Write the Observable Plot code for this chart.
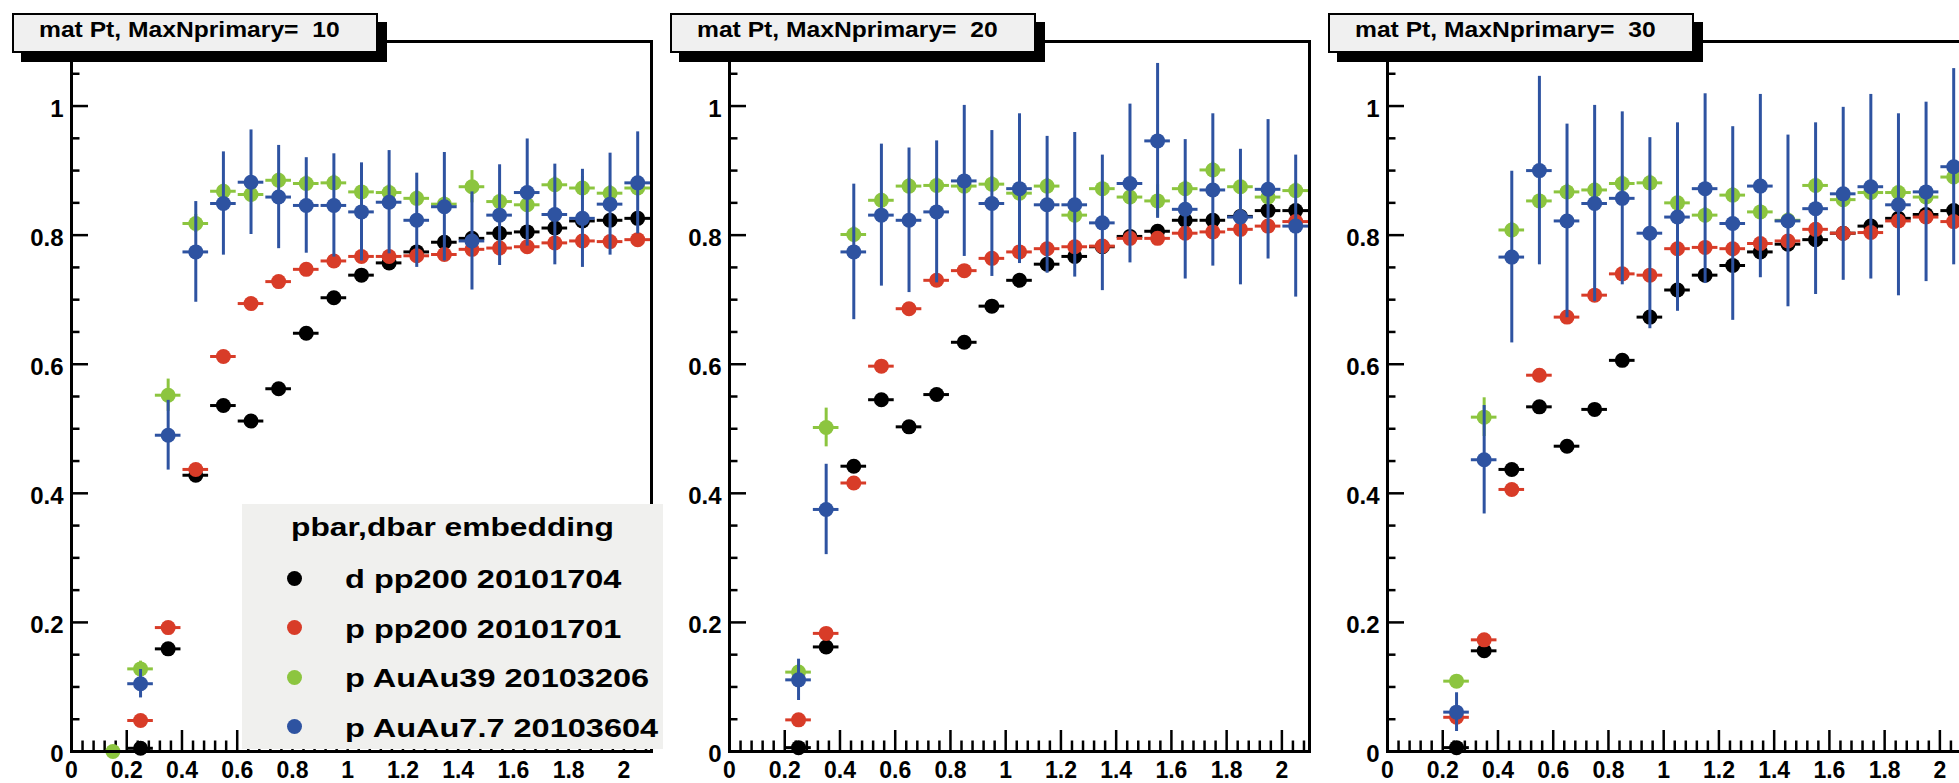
<!DOCTYPE html>
<html><head><meta charset="utf-8">
<script src="https://cdn.jsdelivr.net/npm/d3@7"></script>
<script src="https://cdn.jsdelivr.net/npm/@observablehq/plot@0.6"></script>
<style>
html, body { margin:0; padding:0; background:#fff; overflow:hidden; }
#wrap { position:relative; width:1959px; height:783px; overflow:hidden; background:#fff; }
.panel { position:absolute; top:0; width:658px; height:783px; }
.panel svg { position:absolute; left:0; top:0; background:transparent !important; max-width:none !important; }
.titlebox { position:absolute; left:12px; top:13px; width:366px; height:40px; box-sizing:border-box;
  border:2px solid #000; background:#f0f0f0; box-shadow:9px 9px 0 #000; z-index:5; }
.titlebox span { position:absolute; left:25px; top:4px; font:bold 22px/22px "Liberation Sans", Arial, sans-serif;
  white-space:pre; transform:scaleX(1.12); transform-origin:0 0; color:#000; }
.legend { position:absolute; left:242px; top:504px; width:421px; height:245px; background:#f0f0ee; z-index:10; }
.legend .head { position:absolute; left:0; width:100%; top:11px; text-align:center;
  font:bold 25px/25px "Liberation Sans", Arial, sans-serif; transform:scaleX(1.27); transform-origin:50% 0; white-space:pre; }
.legend .mk { position:absolute; width:15px; height:15px; border-radius:50%; left:44.5px; }
.legend .lab { position:absolute; left:103px; font:bold 25px/25px "Liberation Sans", Arial, sans-serif;
  transform:scaleX(1.3); transform-origin:0 0; white-space:pre; }
</style>
</head>
<body>
<div id="wrap"></div>
<script>
// ---- data ----
const ptBins = [0.15,0.25,0.35,0.45,0.55,0.65,0.75,0.85,0.95,1.05,1.15,1.25,1.35,1.45,1.55,1.65,1.75,1.85,1.95,2.05];
const binHalfWidth = 0.05;

const panelTitles = ["mat Pt, MaxNprimary=  10", "mat Pt, MaxNprimary=  20", "mat Pt, MaxNprimary=  30"];
const legendTitle = "pbar,dbar embedding";
const seriesNames = ["d pp200 20101704", "p pp200 20101701", "p AuAu39 20103206", "p AuAu7.7 20103604"];
const seriesColors = ["#000000", "#d83c28", "#8cc53f", "#2e53a1"];

// MaxNprimary = 10
const n10_dpp200 = [null,0.005,0.159,0.428,0.536,0.512,0.562,0.648,0.703,0.738,0.757,0.774,0.789,0.795,0.803,0.805,0.811,0.822,0.823,0.826];
const n10_ppp200 = [null,0.048,0.192,0.437,0.612,0.694,0.728,0.747,0.760,0.767,0.767,0.768,0.770,0.778,0.780,0.782,0.788,0.791,0.790,0.793];
const n10_pAuAu39 = [0.000,0.128,0.552,0.818,0.868,0.863,0.885,0.880,0.881,0.867,0.866,0.857,0.848,0.875,0.852,0.847,0.878,0.873,0.865,0.873];
const n10_pAuAu39_err = [0.006,0.012,0.025,0.014,0.012,0.012,0.012,0.012,0.012,0.012,0.012,0.012,0.012,0.025,0.012,0.012,0.012,0.018,0.012,0.012];
const n10_pAuAu77 = [null,0.105,0.490,0.774,0.849,0.882,0.859,0.846,0.846,0.836,0.851,0.823,0.844,0.791,0.831,0.866,0.832,0.826,0.848,0.881];
const n10_pAuAu77_err = [null,0.022,0.054,0.078,0.080,0.081,0.080,0.074,0.080,0.076,0.080,0.073,0.084,0.076,0.078,0.083,0.078,0.076,0.079,0.079];

// MaxNprimary = 20
const n20_dpp200 = [null,0.006,0.162,0.442,0.545,0.503,0.553,0.634,0.690,0.730,0.755,0.767,0.782,0.798,0.806,0.823,0.823,0.829,0.838,0.838];
const n20_ppp200 = [null,0.049,0.183,0.416,0.597,0.686,0.730,0.745,0.764,0.774,0.779,0.782,0.783,0.795,0.795,0.803,0.805,0.809,0.814,0.821];
const n20_pAuAu39 = [null,0.123,0.502,0.801,0.854,0.876,0.877,0.876,0.879,0.865,0.876,0.831,0.872,0.859,0.853,0.872,0.901,0.875,0.859,0.869];
const n20_pAuAu39_err = [null,0.012,0.030,0.012,0.012,0.012,0.012,0.012,0.012,0.012,0.012,0.012,0.012,0.012,0.025,0.012,0.012,0.012,0.012,0.012];
const n20_pAuAu77 = [null,0.111,0.375,0.774,0.831,0.823,0.836,0.884,0.849,0.872,0.847,0.847,0.819,0.880,0.946,0.840,0.870,0.828,0.871,0.814];
const n20_pAuAu77_err = [null,0.032,0.070,0.105,0.110,0.112,0.110,0.117,0.113,0.116,0.106,0.112,0.105,0.123,0.120,0.108,0.118,0.105,0.108,0.110];

// MaxNprimary = 30
const n30_dpp200 = [null,0.006,0.156,0.437,0.534,0.473,0.530,0.606,0.673,0.715,0.738,0.753,0.774,0.786,0.793,0.803,0.814,0.826,0.832,0.838];
const n30_ppp200 = [null,0.053,0.173,0.406,0.583,0.673,0.707,0.740,0.738,0.779,0.781,0.779,0.787,0.791,0.809,0.803,0.804,0.822,0.828,0.821];
const n30_pAuAu39 = [null,0.109,0.518,0.808,0.853,0.867,0.870,0.880,0.881,0.850,0.831,0.862,0.836,0.823,0.877,0.855,0.866,0.866,0.859,0.890];
const n30_pAuAu39_err = [null,0.010,0.030,0.012,0.012,0.012,0.012,0.012,0.012,0.012,0.012,0.012,0.012,0.012,0.012,0.012,0.012,0.012,0.012,0.012];
const n30_pAuAu77 = [null,0.061,0.452,0.766,0.900,0.822,0.849,0.857,0.803,0.828,0.872,0.818,0.876,0.822,0.841,0.864,0.875,0.847,0.867,0.906];
const n30_pAuAu77_err = [null,0.030,0.084,0.133,0.146,0.150,0.152,0.134,0.148,0.146,0.147,0.150,0.142,0.133,0.133,0.134,0.143,0.141,0.139,0.152];

// axes
const yMajorTicks = [0, 0.2, 0.4, 0.6, 0.8, 1];
const yTickLabels = ["0", "0.2", "0.4", "0.6", "0.8", "1"];
const yMinorTicks = [0.05,0.1,0.15,0.25,0.3,0.35,0.45,0.5,0.55,0.65,0.7,0.75,0.85,0.9,0.95,1.05];
const xMajorTicks = [0, 0.2, 0.4, 0.6, 0.8, 1, 1.2, 1.4, 1.6, 1.8, 2];
const xTickLabels = ["0", "0.2", "0.4", "0.6", "0.8", "1", "1.2", "1.4", "1.6", "1.8", "2"];
const xMinorTicks = [0.04,0.08,0.12,0.16,0.24,0.28,0.32,0.36,0.44,0.48,0.52,0.56,0.64,0.68,0.72,0.76,
  0.84,0.88,0.92,0.96,1.04,1.08,1.12,1.16,1.24,1.28,1.32,1.36,1.44,1.48,1.52,1.56,
  1.64,1.68,1.72,1.76,1.84,1.88,1.92,1.96,2.04,2.08];
const xDomain = [0, 2.1];
const yDomain = [0, 1.1];

const panels = [
  {title: panelTitles[0], series: [[n10_dpp200, null], [n10_ppp200, null], [n10_pAuAu39, n10_pAuAu39_err], [n10_pAuAu77, n10_pAuAu77_err]]},
  {title: panelTitles[1], series: [[n20_dpp200, null], [n20_ppp200, null], [n20_pAuAu39, n20_pAuAu39_err], [n20_pAuAu77, n20_pAuAu77_err]]},
  {title: panelTitles[2], series: [[n30_dpp200, null], [n30_ppp200, null], [n30_pAuAu39, n30_pAuAu39_err], [n30_pAuAu77, n30_pAuAu77_err]]}
];

// ---- layout ----
const W = 658, H = 783, mL = 71, mR = 7, mT = 41, mB = 32;
const plotW = W - mL - mR, plotH = H - mT - mB;
const FONT = '"Liberation Sans", Arial, Helvetica, sans-serif';

function makePanel(p) {
  const marks = [];
  p.series.forEach(([vals, errs], si) => {
    const rows = [];
    vals.forEach((v, i) => { if (v != null) rows.push({x: ptBins[i], y: v, e: errs ? errs[i] : 0}); });
    const c = seriesColors[si];
    marks.push(Plot.ruleY(rows, {y: "y", x1: d => d.x - binHalfWidth, x2: d => d.x + binHalfWidth,
      stroke: c, strokeWidth: 3, insetLeft: 1, insetRight: 1}));
    if (errs) marks.push(Plot.ruleX(rows.filter(d => d.e > 0), {x: "x", y1: d => d.y - d.e, y2: d => d.y + d.e,
      stroke: c, strokeWidth: 3}));
    marks.push(Plot.dot(rows, {x: "x", y: "y", r: 7.5, fill: c, stroke: "none"}));
  });
  return Plot.plot({
    width: W, height: H,
    marginLeft: mL, marginRight: mR, marginTop: mT, marginBottom: mB,
    x: {domain: xDomain, label: null}, y: {domain: yDomain, label: null},
    style: {fontFamily: FONT, fontWeight: "bold", fontSize: "23px", color: "#000", background: "transparent", overflow: "visible"},
    marks: [
      Plot.tickY(yMajorTicks, {y: d => d, stroke: "#000", strokeWidth: 2.5, insetRight: plotW - 17}),
      Plot.tickY(yMinorTicks, {y: d => d, stroke: "#000", strokeWidth: 2.5, insetRight: plotW - 8.5}),
      Plot.tickX(xMajorTicks, {x: d => d, stroke: "#000", strokeWidth: 2.5, insetTop: plotH - 21}),
      Plot.tickX(xMinorTicks, {x: d => d, stroke: "#000", strokeWidth: 2.5, insetTop: plotH - 10.5}),
      Plot.axisY({ticks: yMajorTicks, tickSize: 0, tickPadding: 8, dy: 3, fontSize: 24, label: null,
        tickFormat: d => yTickLabels[yMajorTicks.indexOf(d)]}),
      Plot.axisX({ticks: xMajorTicks, tickSize: 0, tickPadding: 10, fontSize: 23, label: null,
        tickFormat: d => xTickLabels[xMajorTicks.indexOf(d)]}),
      ...marks,
      Plot.frame({stroke: "#000", strokeWidth: 3})
    ]
  });
}

const wrap = document.getElementById("wrap");
panels.forEach((p, i) => {
  const div = document.createElement("div");
  div.className = "panel";
  div.style.left = (i * W) + "px";
  div.appendChild(makePanel(p));
  const tb = document.createElement("div");
  tb.className = "titlebox";
  const ts = document.createElement("span");
  ts.textContent = p.title;
  tb.appendChild(ts);
  div.appendChild(tb);
  wrap.appendChild(div);
});

// legend
const lg = document.createElement("div");
lg.className = "legend";
const hd = document.createElement("div");
hd.className = "head";
hd.textContent = legendTitle;
lg.appendChild(hd);
seriesNames.forEach((name, k) => {
  const mk = document.createElement("div");
  mk.className = "mk";
  mk.style.top = (74 - 7.5 + 49.5 * k) + "px";
  mk.style.background = seriesColors[k];
  lg.appendChild(mk);
  const lb = document.createElement("div");
  lb.className = "lab";
  lb.style.top = (63 + 49.5 * k) + "px";
  lb.textContent = name;
  lg.appendChild(lb);
});
wrap.appendChild(lg);
</script>
</body></html>
